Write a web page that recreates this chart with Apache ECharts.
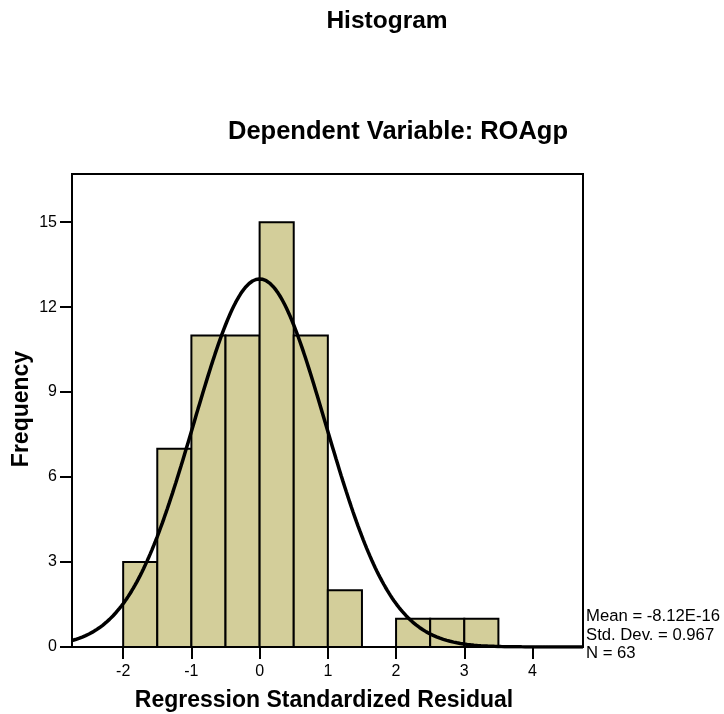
<!DOCTYPE html>
<html>
<head>
<meta charset="utf-8">
<script src="https://cdn.jsdelivr.net/npm/echarts@6/dist/echarts.min.js"></script>
<style>html,body{margin:0;padding:0;background:#fff}#c{width:724px;height:714px}</style>
</head>
<body>
<div id="c"></div>
<script>
// Histogram bins (lower edge, upper edge) and frequencies
const binStarts = [-2, -1.5, -1, -0.5, 0, 0.5, 1, 1.5, 2, 2.5, 3];
const binEnds   = [-1.5, -1, -0.5, 0, 0.5, 1, 1.5, 2, 2.5, 3, 3.5];
const frequencies = [3, 7, 11, 11, 15, 11, 2, 0, 1, 1, 1];
const xTicks = [-2, -1, 0, 1, 2, 3, 4];
const yTicks = [0, 3, 6, 9, 12, 15];
// Reported statistics (fitted normal curve uses these)
const statMean = -8.12e-16;
const statStd = 0.967;
const statN = 63;
const binWidth = 0.5;
const statLines = ['Mean = -8.12E-16', 'Std. Dev. = 0.967', 'N = 63'];

const xMin = -2.75, xMax = 4.74, yMax = 16.7;

// Fitted normal curve from the reported mean / std. dev. / N
const curve = [];
for (let i = 0; i <= 300; i++) {
  const x = xMin + (xMax - xMin) * i / 300;
  const z = (x - statMean) / statStd;
  const y = statN * binWidth / (statStd * Math.sqrt(2 * Math.PI)) * Math.exp(-0.5 * z * z);
  curve.push([x, y]);
}

const barData = binStarts.map((s, i) => [s, binEnds[i], frequencies[i]]).filter(d => d[2] > 0);

const FONT = '"Liberation Sans", Arial, sans-serif';
const chart = echarts.init(document.getElementById('c'), null, {renderer: 'canvas'});
chart.setOption({
  animation: false,
  backgroundColor: '#fff',
  grid: {left: 72, top: 174, right: 141, bottom: 67, show: true, borderColor: '#000', borderWidth: 2, backgroundColor: 'transparent'},
  xAxis: {
    type: 'value', min: xMin, max: xMax,
    axisLine: {show: true, onZero: false, lineStyle: {color: '#000', width: 2}},
    axisTick: {show: true, length: 12, lineStyle: {color: '#000', width: 2}, customValues: xTicks},
    axisLabel: {color: '#000', fontSize: 16, fontFamily: FONT, margin: 17, customValues: xTicks,
      formatter: v => String(v)},
    splitLine: {show: false}
  },
  yAxis: {
    type: 'value', min: 0, max: yMax,
    axisLine: {show: true, onZero: false, lineStyle: {color: '#000', width: 2}},
    axisTick: {show: true, length: 12, lineStyle: {color: '#000', width: 2}, customValues: yTicks},
    axisLabel: {color: '#000', fontSize: 16, fontFamily: FONT, margin: 15, customValues: yTicks},
    splitLine: {show: false}
  },
  series: [
    {
      type: 'custom',
      data: barData,
      encode: {x: [0, 1], y: 2},
      z: 2,
      renderItem: function (params, api) {
        const p0 = api.coord([api.value(0), api.value(2)]);
        const p1 = api.coord([api.value(1), 0]);
        return {
          type: 'rect',
          shape: {x: p0[0], y: p0[1], width: p1[0] - p0[0], height: p1[1] - p0[1]},
          style: {fill: '#D3CE9A', stroke: '#000', lineWidth: 2}
        };
      }
    },
    {
      type: 'line',
      data: curve,
      showSymbol: false,
      symbol: 'none',
      z: 3,
      lineStyle: {color: '#000', width: 3.5},
      clip: true
    }
  ],
  graphic: [
    {type: 'text', x: 387, y: 21, style: {text: 'Histogram', fill: '#000', font: 'bold 24.5px ' + FONT, align: 'center', verticalAlign: 'middle'}},
    {type: 'text', x: 398, y: 132, style: {text: 'Dependent Variable: ROAgp', fill: '#000', font: 'bold 25.5px ' + FONT, align: 'center', verticalAlign: 'middle'}},
    {type: 'text', x: 324, y: 701, style: {text: 'Regression Standardized Residual', fill: '#000', font: 'bold 23px ' + FONT, align: 'center', verticalAlign: 'middle'}},
    {type: 'text', x: 22, y: 409, rotation: Math.PI / 2, style: {text: 'Frequency', fill: '#000', font: 'bold 23px ' + FONT, align: 'center', verticalAlign: 'middle'}},
    {type: 'text', x: 586, y: 616, style: {text: statLines[0], fill: '#000', font: '16.7px ' + FONT, align: 'left', verticalAlign: 'middle'}},
    {type: 'text', x: 586, y: 635, style: {text: statLines[1], fill: '#000', font: '16.7px ' + FONT, align: 'left', verticalAlign: 'middle'}},
    {type: 'text', x: 586, y: 653, style: {text: statLines[2], fill: '#000', font: '16.7px ' + FONT, align: 'left', verticalAlign: 'middle'}}
  ]
});
</script>
</body>
</html>
